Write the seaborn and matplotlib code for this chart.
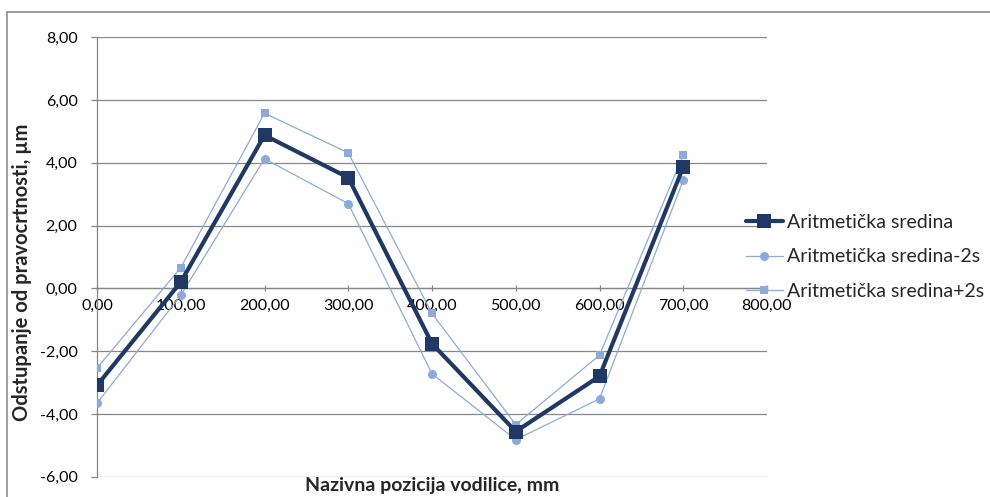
import matplotlib
matplotlib.use("Agg")
import matplotlib.pyplot as plt
from matplotlib.ticker import FuncFormatter, MultipleLocator
from matplotlib.lines import Line2D
import seaborn as sns
import pandas as pd

# Measured straightness deviation along the guide
positions = [0, 100, 200, 300, 400, 500, 600, 700]
mean_vals = [-3.09, 0.20, 4.88, 3.53, -1.76, -4.56, -2.80, 3.87]
minus_2s = [-3.66, -0.22, 4.13, 2.70, -2.72, -4.82, -3.52, 3.45]
plus_2s = [-2.54, 0.66, 5.58, 4.32, -0.80, -4.34, -2.13, 4.25]

series_names = ["Aritmetička sredina", "Aritmetička sredina-2s", "Aritmetička sredina+2s"]
x_label = "Nazivna pozicija vodilice, mm"
y_label = "Odstupanje od pravocrtnosti, µm"

sns.set_style("white")
plt.rcParams["font.family"] = ["Lato", "DejaVu Sans"]

dark = "#1F3864"
light = "#8EAADB"
grid_grey = "#878787"

df = pd.DataFrame({
    "x": positions * 3,
    "y": mean_vals + minus_2s + plus_2s,
    "series": [series_names[0]] * 8 + [series_names[1]] * 8 + [series_names[2]] * 8,
})

fig = plt.figure(figsize=(9.9, 4.97), dpi=100)
ax = fig.add_axes([97 / 990, 1 - 476.7 / 497, 670 / 990, (476.7 - 37.3) / 497])

styles = {
    series_names[1]: dict(color=light, lw=0.9, marker="o", ms=6.5, zorder=3),
    series_names[2]: dict(color=light, lw=0.9, marker="s", ms=6.0, zorder=3),
    series_names[0]: dict(color=dark, lw=3.0, marker="s", ms=9.5, zorder=4),
}
for name in [series_names[1], series_names[2], series_names[0]]:
    st = styles[name]
    sub = df[df["series"] == name]
    sns.lineplot(data=sub, x="x", y="y", ax=ax, color=st["color"], linewidth=st["lw"],
                 marker=st["marker"], markersize=st["ms"], markeredgewidth=0,
                 markerfacecolor=st["color"], zorder=st["zorder"], legend=False,
                 estimator=None, sort=False)

ax.set_xlim(0, 800)
ax.set_ylim(-6, 8)
ax.xaxis.set_major_locator(MultipleLocator(100))
ax.yaxis.set_major_locator(MultipleLocator(2))
fmt = FuncFormatter(lambda v, p: f"{v:.2f}".replace(".", ","))
ax.xaxis.set_major_formatter(fmt)
ax.yaxis.set_major_formatter(fmt)

ax.grid(axis="y", color=grid_grey, lw=0.9)
ax.grid(axis="x", visible=False)
ax.set_axisbelow(True)
for s in ["top", "right"]:
    ax.spines[s].set_visible(False)
ax.spines["left"].set_color(grid_grey)
ax.spines["left"].set_linewidth(0.9)
ax.spines["bottom"].set_position(("data", 0))
ax.spines["bottom"].set_color(grid_grey)
ax.spines["bottom"].set_linewidth(0.9)

ax.tick_params(axis="y", direction="out", length=4, width=0.9, color=grid_grey,
               pad=10, labelsize=11.5, labelcolor="#000000", left=True)
ax.tick_params(axis="x", direction="inout", length=5, width=0.9, color=grid_grey,
               pad=5, labelsize=11.5, labelcolor="#000000", bottom=True)
ax.set_xlabel("")
ax.set_ylabel("")

fig.text(432 / 990, 1 - 486 / 497, x_label, ha="center", va="center",
         fontsize=14, fontweight="bold")
fig.text(22 / 990, 1 - 272 / 497, y_label, ha="center", va="center",
         rotation=90, fontsize=14.5, fontweight="bold")

handles = [
    Line2D([], [], color=dark, lw=3.0, marker="s", ms=9.5, markeredgewidth=0),
    Line2D([], [], color=light, lw=0.9, marker="o", ms=6.5, markeredgewidth=0),
    Line2D([], [], color=light, lw=0.9, marker="s", ms=6, markeredgewidth=0),
]
fig.legend(handles, series_names, loc="center left",
           bbox_to_anchor=(746 / 990, 1 - 257 / 497), frameon=False,
           fontsize=14, handlelength=1.9, handletextpad=0.2, labelspacing=0.9,
           borderpad=0, borderaxespad=0)

# chart-area border (top and left edges)
fig.add_artist(Line2D([7 / 990, 1], [1 - 11.5 / 497] * 2, transform=fig.transFigure,
                      color="#8C8C8C", lw=1.2))
fig.add_artist(Line2D([7 / 990] * 2, [0, 1 - 11.5 / 497], transform=fig.transFigure,
                      color="#8C8C8C", lw=1.2))

fig.savefig("out.png", dpi=100)
